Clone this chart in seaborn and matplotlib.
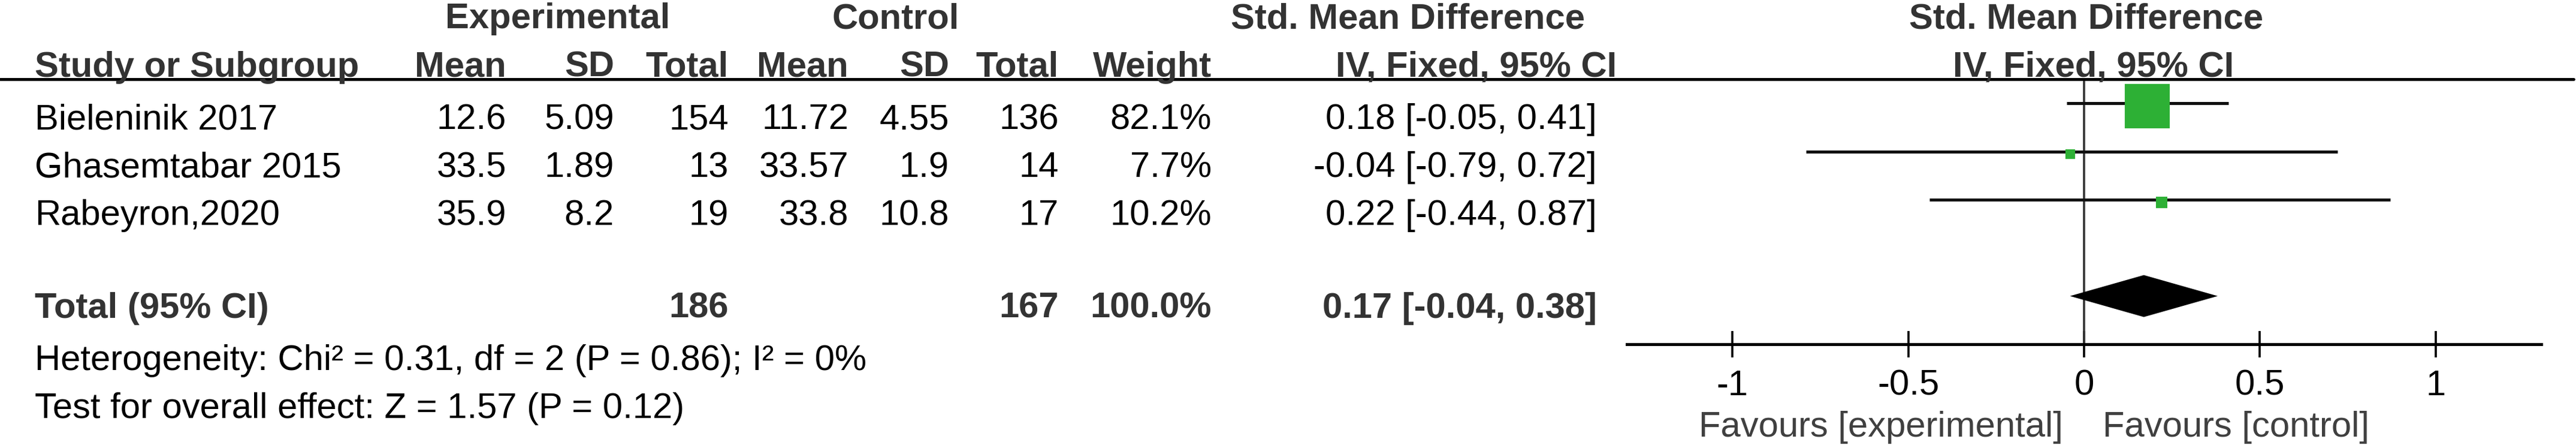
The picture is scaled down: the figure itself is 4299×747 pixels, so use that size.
import numpy as np
import pandas as pd
import matplotlib.pyplot as plt
import seaborn as sns
from matplotlib.lines import Line2D

# Studies and values
studies = ["Bieleninik 2017", "Ghasemtabar 2015", "Rabeyron,2020"]
exp_mean = [12.6, 33.5, 35.9]
exp_sd = [5.09, 1.89, 8.2]
exp_n = [154, 13, 19]
ctl_mean = [11.72, 33.57, 33.8]
ctl_sd = [4.55, 1.9, 10.8]
ctl_n = [136, 14, 17]
weight = [82.1, 7.7, 10.2]
smd = [0.18, -0.04, 0.22]
ci_lo = [-0.05, -0.79, -0.44]
ci_hi = [0.41, 0.72, 0.87]

total_smd = 0.17
total_lo = -0.04
total_hi = 0.38
heterogeneity = "Heterogeneity: Chi² = 0.31, df = 2 (P = 0.86); I² = 0%"
overall_effect = "Test for overall effect: Z = 1.57 (P = 0.12)"

ticks = [-1, -0.5, 0, 0.5, 1]
tick_labels = ["-1", "-0.5", "0", "0.5", "1"]

sns.set_theme(style="white")
plt.rcParams['font.family'] = ['Liberation Sans', 'DejaVu Sans']

W, H = 4299, 747
FS = 43
HEAD = "#333333"
GREEN = "#2db035"

fig = plt.figure(figsize=(W / 100, H / 100), dpi=100, facecolor="white")


def put(x, y, s, **kw):
    # x, y in pixels from top-left, y is the text baseline
    kw.setdefault("fontsize", FS)
    kw.setdefault("color", "black")
    fig.text(x / W, 1 - y / H, s, va="baseline", **kw)


# header rows
put(931, 47, "Experimental", ha="center", fontweight="bold", color=HEAD)
put(1495, 47, "Control", ha="center", fontweight="bold", color=HEAD)
put(2350, 47, "Std. Mean Difference", ha="center", fontweight="bold", color=HEAD)
put(3481, 47, "Std. Mean Difference", ha="center", fontweight="bold", color=HEAD)

col_right = [845, 1025, 1216, 1416, 1584, 1767, 2022]
col_names = ["Mean", "SD", "Total", "Mean", "SD", "Total", "Weight"]
put(58, 128, "Study or Subgroup", ha="left", fontweight="bold", color=HEAD)
for x, name in zip(col_right, col_names):
    put(x, 128, name, ha="right", fontweight="bold", color=HEAD)
put(2698, 128, "IV, Fixed, 95% CI", ha="right", fontweight="bold", color=HEAD)
put(3494, 128, "IV, Fixed, 95% CI", ha="center", fontweight="bold", color=HEAD)

fig.add_artist(Line2D([0, 4295 / W], [1 - 132 / H, 1 - 132 / H],
                      color="black", lw=3.5))

# study rows
for i, name in enumerate(studies):
    yb = 215 + 80 * i
    cells = [f"{exp_mean[i]:g}", f"{exp_sd[i]:g}", f"{exp_n[i]}",
             f"{ctl_mean[i]:g}", f"{ctl_sd[i]:g}", f"{ctl_n[i]}",
             f"{weight[i]:.1f}%"]
    put(58, yb, name, ha="left")
    for x, c in zip(col_right, cells):
        put(x, yb, c, ha="right")
    put(2665, yb, f"{smd[i]:.2f} [{ci_lo[i]:.2f}, {ci_hi[i]:.2f}]", ha="right")

# total row
put(58, 530, "Total (95% CI)", ha="left", fontweight="bold", color=HEAD)
put(col_right[2], 530, f"{sum(exp_n)}", ha="right", fontweight="bold", color=HEAD)
put(col_right[5], 530, f"{sum(ctl_n)}", ha="right", fontweight="bold", color=HEAD)
put(col_right[6], 530, f"{sum(weight):.1f}%", ha="right", fontweight="bold", color=HEAD)
put(2665, 530, f"{total_smd:.2f} [{total_lo:.2f}, {total_hi:.2f}]",
    ha="right", fontweight="bold", color=HEAD)
put(58, 617, heterogeneity, ha="left")
put(58, 697, overall_effect, ha="left")

# forest panel
ax = fig.add_axes([2715 / W, 1 - 574 / H, (4241 - 2715) / W, (574 - 132) / H])
ax.patch.set_alpha(0)
rows = np.arange(len(studies))
total_row = 4

# the boxes sit a few pixels below their CI lines in the original
df = pd.DataFrame({"smd": smd, "row": rows + 0.06, "weight": weight})
side_pt = 4.24 * df["weight"] ** 0.65 * 0.72
ax.axvline(0, color="#333333", lw=2.6, zorder=1)
ax.hlines(rows, ci_lo, ci_hi, color="#111111", lw=3.6, zorder=2)
sns.scatterplot(data=df, x="smd", y="row", marker="s", s=side_pt ** 2,
                color=GREEN, linewidth=0, ax=ax, zorder=3, legend=False)
ax.fill([total_lo, total_smd, total_hi, total_smd],
        [total_row, total_row - 0.435, total_row, total_row + 0.435],
        color="black", lw=0, zorder=3)

ax.set_xlim(-1.3, 1.3)
ax.set_ylim(5.0, -0.5)
ax.set_xlabel("")
ax.set_ylabel("")
ax.set_yticks([])
ax.set_xticks(ticks)
ax.set_xticklabels(tick_labels)
for side in ["left", "top", "right"]:
    ax.spines[side].set_visible(False)
ax.spines["bottom"].set_linewidth(3.5)
ax.spines["bottom"].set_color("black")
ax.tick_params(axis="x", direction="inout", length=32, width=2.6,
               pad=14, labelsize=FS, colors="black", bottom=True)

put(3443, 728, "Favours [experimental]", ha="right", color="#404040")
put(3509, 728, "Favours [control]", ha="left", color="#404040")

fig.savefig("out.png", dpi=100, facecolor="white")
